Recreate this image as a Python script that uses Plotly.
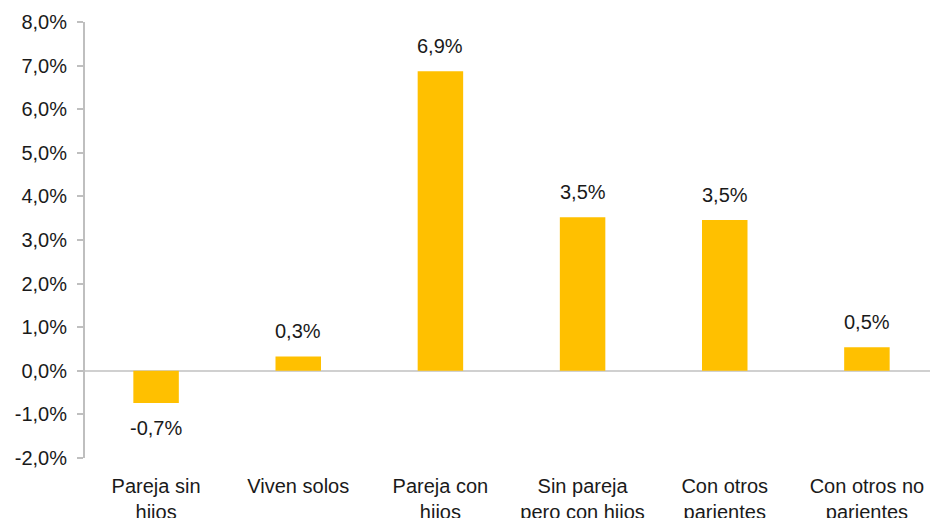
import plotly.graph_objects as go

categories = ["Pareja sin<br>hijos", "Viven solos", "Pareja con<br>hijos",
              "Sin pareja<br>pero con hijos", "Con otros<br>parientes", "Con otros no<br>parientes"]
values = [-0.74, 0.33, 6.87, 3.52, 3.46, 0.54]
y_ticks = [-2, -1, 0, 1, 2, 3, 4, 5, 6, 7, 8]

FONT = "Liberation Sans, Arial, sans-serif"
FS = 20
labels = [f"{v:.1f}".replace(".", ",") + "%" for v in values]
y_ticktext = [f"{v:.1f}".replace(".", ",") + "%" for v in y_ticks]

fig = go.Figure()
fig.add_trace(go.Bar(
    x=categories, y=values,
    marker=dict(color="#FFC000", line=dict(width=0)),
    width=0.32,
    hoverinfo="skip",
))

for c, v, t in zip(categories, values, labels):
    fig.add_annotation(x=c, y=v, text=t, showarrow=False,
                       yshift=25 if v >= 0 else -25,
                       font=dict(family=FONT, size=FS, color="#1a1a1a"))

fig.update_layout(
    width=930, height=510,
    margin=dict(l=77, r=0, t=14, b=60),
    paper_bgcolor="white", plot_bgcolor="white",
    showlegend=False,
    font=dict(family=FONT, size=FS, color="#1a1a1a"),
    xaxis=dict(
        showgrid=False, showline=False, zeroline=False, automargin=False,
        ticks="outside", ticklen=10, tickcolor="rgba(0,0,0,0)",
        tickfont=dict(family=FONT, size=FS, color="#1a1a1a"),
    ),
    yaxis=dict(
        range=[-2, 8], tickvals=y_ticks, ticktext=y_ticktext, automargin=False,
        showgrid=False, showline=True, linecolor="#BFBFBF", linewidth=2,
        zeroline=True, zerolinecolor="#D0D0D0", zerolinewidth=2,
        ticks="outside", ticklen=6, tickcolor="#BFBFBF", tickwidth=1.5,
        tickfont=dict(family=FONT, size=FS, color="#1a1a1a"),
        ticklabelstandoff=6,
    ),
)

fig.write_html("out.html")
